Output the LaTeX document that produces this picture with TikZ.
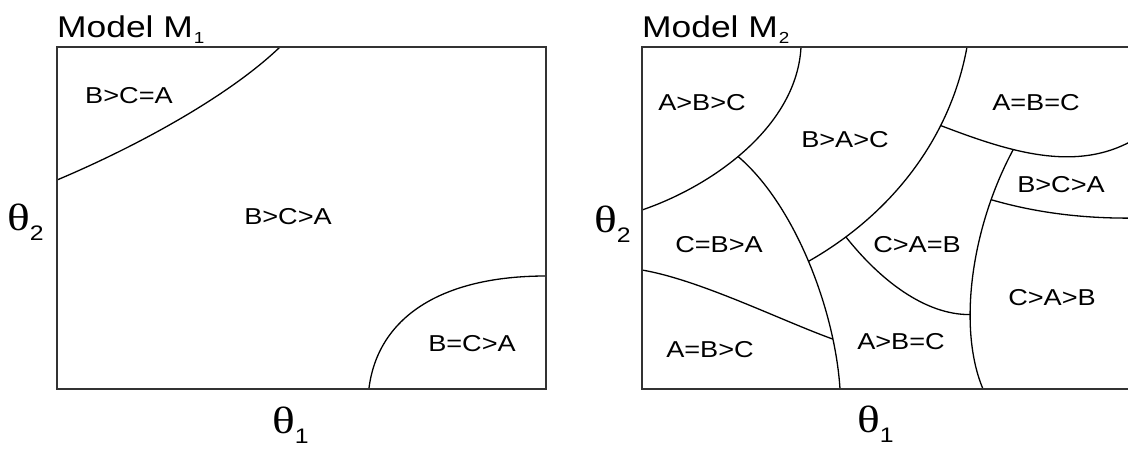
\documentclass[tikz,border=0pt]{standalone}
\usepackage{fontspec}
\setmainfont{Liberation Sans}[FakeStretch=1.18]
\newfontfamily\thfont{Liberation Serif}[FakeStretch=1.25]
\newcommand{\thsub}[1]{{\thfont\fontsize{38}{38}\selectfont\symbol{"03B8}}\raisebox{-10pt}{\fontsize{21}{21}\selectfont #1}}
\newcommand{\modeltitle}[1]{{\fontsize{30}{30}\selectfont Model M}\hspace{1pt}\raisebox{-6pt}{\fontsize{16}{16}\selectfont #1}}
\tikzset{
  frame/.style={line width=1.7pt, draw=black!80},
  bound/.style={line width=1.3pt, draw=black},
  region/.style={inner sep=0pt, font=\fontsize{23}{23}\selectfont},
  axislbl/.style={inner sep=0pt, anchor=base west},
}
\begin{document}
\begin{tikzpicture}[x=1pt,y=-1pt]
\useasboundingbox (0,0) rectangle (1128,450);
\clip (0,0) rectangle (1128,450);
% ---------- Model M1 ----------
\draw[bound] (57,180) .. controls (140,145) and (230,95) .. (280,47);
\draw[bound] (369,388) .. controls (378,318) and (440,276) .. (546,276);
\draw[frame] (57,47) rectangle (546,389);
\node[axislbl] (t1) at (57,37) {\modeltitle{1}};
\node[region] (l1a) at (129,96) {B>C=A};
\node[region] (l1b) at (288,217) {B>C>A};
\node[region] (l1c) at (472,344) {B=C>A};
\node[axislbl] (y1) at (7,230) {\thsub{2}};
\node[axislbl] (x1) at (272,433) {\thsub{1}};
% ---------- Model M2 ----------
% R1: A>B>C boundary
\draw[bound] (801,47) .. controls (797,125) and (715,185) .. coordinate[pos=0.55] (J1) (642,210);
% R2: long boundary down to the bottom
\draw[bound] (J1) .. controls (795,205) and (835,310) .. coordinate[pos=0.5] (J2) coordinate[pos=0.8] (J3) (840,389);
% R3: B>A>C right boundary
\draw[bound] (967,47) .. controls (950,140) and (890,215) .. coordinate[pos=0.3] (J5) coordinate[pos=0.84] (J4) (J2);
% R6: A=B=C lower boundary
\draw[bound] (J5) .. controls (1010,152) and (1080,175) .. coordinate[pos=0.35] (J7) (1140,136);
% R5: C>A>B left boundary
\draw[bound] (J7) .. controls (970,230) and (958,330) .. coordinate[pos=0.2] (J8) coordinate[pos=0.65] (J6) (983,389);
% R4: C>A=B / A>B=C boundary
\draw[bound] (J4) .. controls (880,280) and (925,315) .. (J6);
% R7: B>C>A lower boundary
\draw[bound] (J8) .. controls (1040,214) and (1090,219) .. (1140,218);
% R8: C=B>A / A=B>C boundary
\draw[bound] (642,270) .. controls (700,280) and (780,320) .. (J3);
\draw[frame] (1140,47) -- (642,47) -- (642,389) -- (1140,389);
\node[axislbl] (t2) at (642,37) {\modeltitle{2}};
\node[region] (r1) at (702,103) {A>B>C};
\node[region] (r2) at (845,140) {B>A>C};
\node[region] (r3) at (1036,103) {A=B=C};
\node[region] (r4) at (1061,185) {B>C>A};
\node[region] (r5) at (719,245) {C=B>A};
\node[region] (r6) at (917,245) {C>A=B};
\node[region] (r7) at (1052,298) {C>A>B};
\node[region] (r8) at (710,350) {A=B>C};
\node[region] (r9) at (901,342) {A>B=C};
\node[axislbl] (y2) at (594,232) {\thsub{2}};
\node[axislbl] (x2) at (857,432) {\thsub{1}};
\end{tikzpicture}
\end{document}
